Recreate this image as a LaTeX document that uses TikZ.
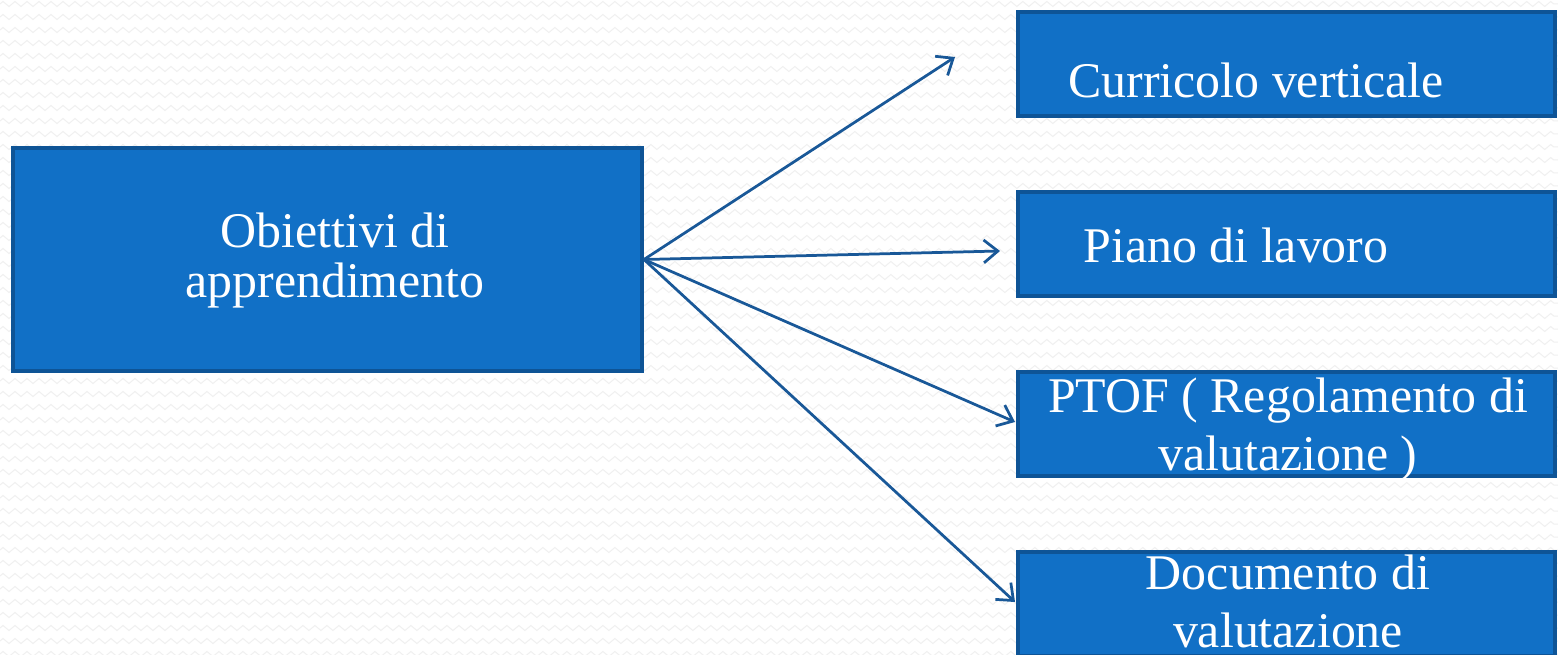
\documentclass[tikz,border=0pt]{standalone}
\usepackage{fontspec}
\setmainfont{Liberation Serif}
\usetikzlibrary{arrows.meta,decorations.pathmorphing}
\definecolor{boxblue}{RGB}{17,112,198}
\definecolor{boxedge}{RGB}{14,84,150}
\definecolor{arrowblue}{RGB}{25,88,152}
\tikzset{
  bluebox/.style={draw=boxedge, fill=boxblue, line width=0.08cm, inner sep=0pt},
  boxtext/.style={text=white, inner sep=0pt, align=center, anchor=base, font=\fontsize{28.4}{28.4}\selectfont},
  widetext/.style={boxtext, font=\fontsize{28.4}{32.6}\selectfont},
  link/.style={arrowblue, line width=0.055cm, -{Straight Barb[length=8pt,width=13pt]}}
}
\begin{document}
\begin{tikzpicture}[x=0.02cm,y=-0.02cm]
\useasboundingbox (0,0) rectangle (1558,655);
\fill[white] (0,0) rectangle (1558,655);
\foreach \r in {4,17,...,655}
  \draw[gray!12, line width=0.02cm, decorate, decoration={zigzag,segment length=0.24cm,amplitude=0.05cm}] (0,\r) -- (1558,\r);

% boxes
\node[bluebox, minimum width=12.58cm, minimum height=4.46cm] (obiettivi) at (327.5,259.5) {};
\node[bluebox, minimum width=10.74cm, minimum height=2.08cm] (curricolo) at (1286.5,64) {};
\node[bluebox, minimum width=10.74cm, minimum height=2.08cm] (piano) at (1286.5,244) {};
\node[bluebox, minimum width=10.74cm, minimum height=2.08cm] (ptof) at (1286.5,424) {};
\node[bluebox, minimum width=10.74cm, minimum height=2.08cm] (documento) at (1286.5,604) {};

% texts (base = last line)
\node[boxtext] (tobiettivi) at (335,297) {Obiettivi di\\apprendimento};
\node[boxtext] (tcurricolo) at (1256,98) {Curricolo verticale};
\node[boxtext] (tpiano) at (1236,262) {Piano di lavoro};
\node[widetext] (tptof) at (1288,470) {PTOF ( Regolamento di\\valutazione )};
\node[widetext] (tdocumento) at (1288,647) {Documento di\\valutazione};

% arrows
\coordinate (e1) at (955,57);
\coordinate (e2) at (1000,251);
\coordinate (e3) at (1015,422);
\coordinate (e4) at (1015,602);
\draw[link] (obiettivi.east) -- (e1);
\draw[link] (obiettivi.east) -- (e2);
\draw[link] (obiettivi.east) -- (e3);
\draw[link] (obiettivi.east) -- (e4);
\end{tikzpicture}
\end{document}
